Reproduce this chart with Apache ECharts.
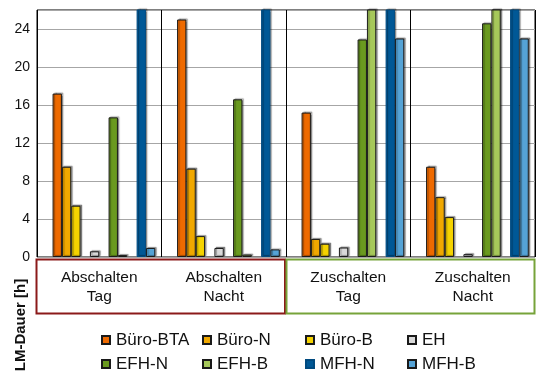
<!DOCTYPE html>
<html>
<head>
<meta charset="utf-8">
<script src="https://cdn.jsdelivr.net/npm/echarts@6/dist/echarts.min.js"></script>
<style>html,body{margin:0;padding:0;background:#fff;}#c{width:536px;height:378px;}</style>
</head>
<body>
<div id="c"></div>
<script>
const categories = ['Abschalten\nTag', 'Abschalten\nNacht', 'Zuschalten\nTag', 'Zuschalten\nNacht'];
const bueroBTA = [17.2, 25.0, 15.2, 9.5];
const bueroN   = [9.5, 9.3, 1.9, 6.3];
const bueroB   = [5.4, 2.2, 1.4, 4.2];
const eh       = [0.6, 0.95, 1.0, 0.3];
const efhN     = [14.7, 16.6, 22.9, 24.6];
const efhB     = [0.2, 0.25, 28, 28];
const mfhN     = [30, 30, 30, 30];
const mfhB     = [0.95, 0.8, 23.0, 23.0];
const yMin = 0, yMax = 26, yStep = 4;
const yTitle = 'LM-Dauer [h]';

const seriesDefs = [
  {name: '_g0', data: null},
  {name: 'Büro-BTA', data: bueroBTA, color: '#EE6A00'},
  {name: 'Büro-N', data: bueroN, color: '#F0A800'},
  {name: 'Büro-B', data: bueroB, color: '#F5D300'},
  {name: '_g1', data: null},
  {name: 'EH', data: eh, color: '#D9D9D9'},
  {name: '_g2', data: null},
  {name: 'EFH-N', data: efhN, color: '#6A9A1F'},
  {name: 'EFH-B', data: efhB, color: '#A6C85A'},
  {name: '_g3', data: null},
  {name: 'MFH-N', data: mfhN, color: '#005896'},
  {name: 'MFH-B', data: mfhB, color: '#55A3D6'}
];

const series = seriesDefs.map(d => ({
  type: 'bar',
  name: d.name,
  data: d.data ? d.data : categories.map(() => null),
  barGap: '0%',
  barCategoryGap: '10%',
  clip: true,
  silent: true,
  itemStyle: d.color ? {
    color: d.color,
    borderColor: d.name === 'MFH-N' ? '#004a80' : '#1a1a1a',
    borderWidth: 1,
    shadowColor: 'rgba(0,0,0,0.35)',
    shadowBlur: 1,
    shadowOffsetX: 1.5,
    shadowOffsetY: -1
  } : {color: 'transparent'}
}));

const legendPos = [
  ['Büro-BTA', 101, 340], ['Büro-N', 202, 340], ['Büro-B', 305, 340], ['EH', 407, 340],
  ['EFH-N', 101, 364], ['EFH-B', 202, 364], ['MFH-N', 305, 364], ['MFH-B', 407, 364]
];
const legends = legendPos.map(p => ({
  data: [p[0]],
  left: p[1], top: p[2] - 9,
  padding: 0,
  itemWidth: 8, itemHeight: 8,
  icon: 'rect',
  selectedMode: false,
  textStyle: {fontFamily: 'Liberation Sans, Arial, sans-serif', fontSize: 17, lineHeight: 18, color: '#111', padding: [0, 0, 0, 1]}
}));

const chart = echarts.init(document.getElementById('c'), null, {renderer: 'canvas'});
chart.setOption({
  animation: false,
  backgroundColor: '#fff',
  grid: {left: 37, right: 1, top: 10, bottom: 121, show: true, borderColor: '#000', borderWidth: 1, containLabel: false},
  legend: legends,
  xAxis: {
    type: 'category',
    data: categories,
    axisLine: {show: false},
    axisTick: {show: false},
    splitLine: {show: true, lineStyle: {color: '#000', width: 1}},
    axisLabel: {
      margin: 11,
      fontFamily: 'Liberation Sans, Arial, sans-serif',
      fontSize: 15.5,
      lineHeight: 19,
      color: '#111'
    }
  },
  yAxis: {
    type: 'value',
    min: yMin, max: yMax, interval: yStep,
    axisLine: {show: false},
    axisTick: {show: false},
    splitLine: {lineStyle: {color: '#a6a6a6', width: 1}},
    axisLabel: {showMaxLabel: false, margin: 7, fontFamily: 'Liberation Sans, Arial, sans-serif', fontSize: 14, color: '#111'}
  },
  series: series,
  graphic: [
    {type: 'rect', shape: {x: 36.5, y: 259.5, width: 248.5, height: 54}, style: {fill: 'none', stroke: '#8B1A1A', lineWidth: 2}, z: 10},
    {type: 'rect', shape: {x: 286.5, y: 259.5, width: 248, height: 54}, style: {fill: 'none', stroke: '#77A33A', lineWidth: 2}, z: 10},
    {type: 'text', x: 21, y: 325, rotation: Math.PI / 2,
     style: {text: yTitle, fontFamily: 'Liberation Sans, Arial, sans-serif', fontSize: 15, fontWeight: 'bold', fill: '#111', textAlign: 'center', textVerticalAlign: 'middle'}}
  ]
});
</script>
</body>
</html>
